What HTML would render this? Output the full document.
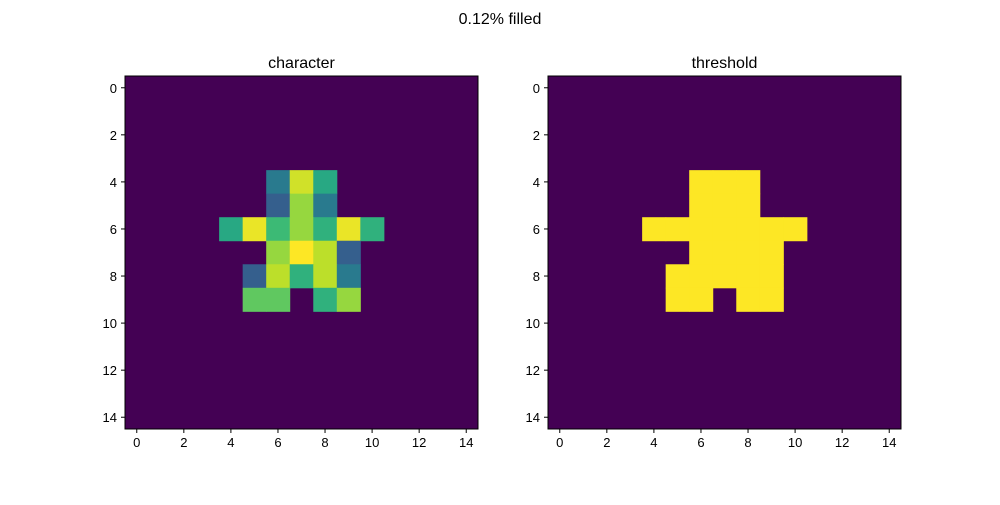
<!DOCTYPE html>
<html><head><meta charset="utf-8"><style>
body{margin:0;background:#fff;}
svg text{font-family:"Liberation Sans","DejaVu Sans",sans-serif;fill:#000;}
</style></head><body>
<svg id="fig" width="1000" height="500" xmlns="http://www.w3.org/2000/svg">
<rect width="1000" height="500" fill="#fff"/>
<text x="500" y="24" text-anchor="middle" font-size="16">0.12% filled</text>
</svg>
<script>
const gridSize = 15;
const charRows = [4,4,4,5,5,5,6,6,6,6,6,6,6,7,7,7,7,8,8,8,8,8,9,9,9,9];
const charCols = [6,7,8,6,7,8,4,5,6,7,8,9,10,6,7,8,9,5,6,7,8,9,5,6,8,9];
const charVals = [0.41,0.93,0.6,0.3,0.84,0.41,0.6,0.97,0.68,0.84,0.64,0.97,0.64,0.84,1.0,0.9,0.3,0.3,0.9,0.64,0.9,0.41,0.75,0.75,0.64,0.84];
const tickLabels = [0,2,4,6,8,10,12,14];
const panelTitles = ["character","threshold"];
const virHex=['440154','482878','3e4989','31688e','26828e','1f9e89','35b779','6ece58','b5de2b','fde725'];
const vir=virHex.map((h,i)=>[i/9,[parseInt(h.slice(0,2),16),parseInt(h.slice(2,4),16),parseInt(h.slice(4,6),16)]]);
function viridis(t){for(let i=1;i<vir.length;i++){if(t<=vir[i][0]){const a=vir[i-1],b=vir[i];const f=(t-a[0])/(b[0]-a[0]);return 'rgb('+a[1].map((c,k)=>Math.round(c+(b[1][k]-c)*f)).join(',')+')';}}return 'rgb(253,231,37)';}
const svgEl=document.getElementById('fig');const NS='http://www.w3.org/2000/svg';
function mk(tag,attrs,parent){const e=document.createElementNS(NS,tag);for(const k in attrs)e.setAttribute(k,attrs[k]);(parent||svgEl).appendChild(e);return e;}
const panels=[{x0:125,name:'character'},{x0:548,name:'threshold'}];
const axTop=76,axSize=353,cell=axSize/gridSize;
panels.forEach((p,pi)=>{
  const sx=v=>p.x0+(v+0.5)*cell, sy=v=>axTop+(v+0.5)*cell;
  const g=mk('g',{});
  
  
  const bg=mk('rect',{x:p.x0,y:axTop,width:axSize,height:axSize,fill:viridis(0)},g);
  
  
  charVals.forEach((v,i)=>{
    const val=pi===0?v:(v>0?1:0);
    const r=mk('rect',{x:sx(charCols[i])-cell/2,y:sy(charRows[i])-cell/2,width:cell+0.5,height:cell+0.5,fill:viridis(val)},g);
    
    
  });
  const fr=mk('rect',{x:p.x0,y:axTop,width:axSize,height:axSize,fill:'none',stroke:'#000','stroke-width':1},g);
  
  
  tickLabels.forEach(t=>{
    mk('line',{x1:sx(t),x2:sx(t),y1:axTop+axSize,y2:axTop+axSize+4,stroke:'#000'},g);
    const xt=mk('text',{x:sx(t),y:axTop+axSize+18,'text-anchor':'middle','font-size':13},g);xt.textContent=t;
    
    
    mk('line',{x1:p.x0-4,x2:p.x0,y1:sy(t),y2:sy(t),stroke:'#000'},g);
    const yt=mk('text',{x:p.x0-8,y:sy(t)+5,'text-anchor':'end','font-size':13},g);yt.textContent=t;
    
    
  });
  const ti=mk('text',{x:p.x0+axSize/2,y:axTop-8,'text-anchor':'middle','font-size':16},g);ti.textContent=panelTitles[pi];
  
  
});
</script>
</body></html>
